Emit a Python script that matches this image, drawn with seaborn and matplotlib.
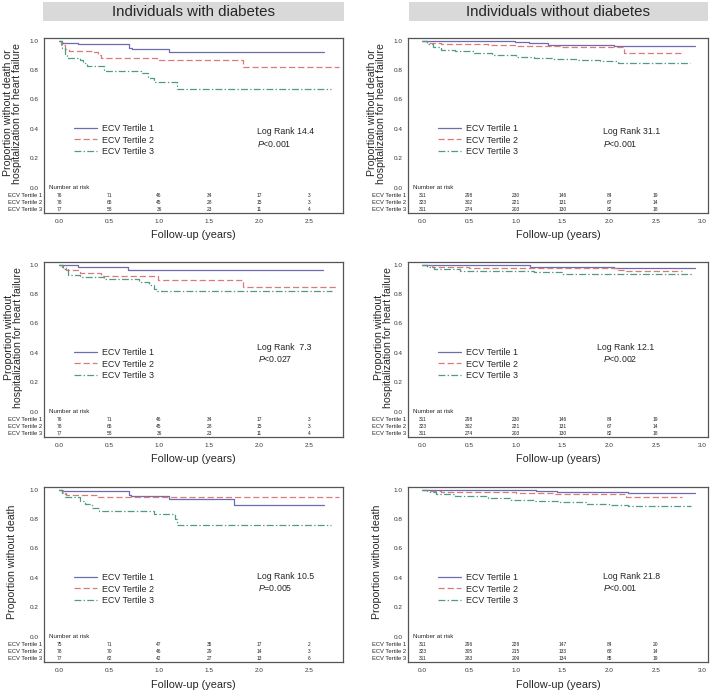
import matplotlib
matplotlib.use('Agg')
import pandas as pd
import matplotlib.pyplot as plt
import seaborn as sns
from matplotlib.patches import Rectangle
from matplotlib.transforms import blended_transform_factory

groups = ['ECV Tertile 1', 'ECV Tertile 2', 'ECV Tertile 3']

# diabetes, death or HF hospitalisation
dm_comp_t1 = [0, 0.03, 0.19, 0.70, 0.73, 1.10, 2.65]
dm_comp_s1 = [1.0, 0.987, 0.976, 0.952, 0.940, 0.923, 0.923]
dm_comp_t2 = [0, 0.02, 0.06, 0.10, 0.33, 0.39, 0.42, 0.98, 1.84, 2.80]
dm_comp_s2 = [1.0, 0.97, 0.946, 0.932, 0.923, 0.90, 0.882, 0.866, 0.823, 0.823]
dm_comp_t3 = [0, 0.03, 0.06, 0.08, 0.21, 0.24, 0.28, 0.45, 0.82, 0.89, 0.95, 1.175, 2.72]
dm_comp_s3 = [1.0, 0.95, 0.91, 0.885, 0.868, 0.85, 0.828, 0.794, 0.78, 0.748, 0.72, 0.669, 0.669]

# diabetes, HF hospitalisation
dm_hf_t1 = [0, 0.19, 0.69, 2.64]
dm_hf_s1 = [1.0, 0.984, 0.966, 0.966]
dm_hf_t2 = [0, 0.03, 0.07, 0.21, 0.42, 0.99, 1.84, 2.77]
dm_hf_s2 = [1.0, 0.984, 0.962, 0.943, 0.92, 0.894, 0.848, 0.848]
dm_hf_t3 = [0, 0.04, 0.09, 0.21, 0.45, 0.80, 0.90, 0.95, 0.98, 2.73]
dm_hf_s3 = [1.0, 0.97, 0.928, 0.916, 0.90, 0.882, 0.86, 0.837, 0.819, 0.819]

# diabetes, death
dm_death_t1 = [0, 0.03, 0.70, 0.72, 1.10, 1.75, 2.65]
dm_death_s1 = [1.0, 0.988, 0.964, 0.955, 0.937, 0.896, 0.896]
dm_death_t2 = [0, 0.04, 0.07, 0.38, 2.80]
dm_death_s2 = [1.0, 0.98, 0.966, 0.952, 0.952]
dm_death_t3 = [0, 0.03, 0.06, 0.21, 0.26, 0.33, 0.40, 0.95, 1.16, 1.18, 2.72]
dm_death_s3 = [1.0, 0.975, 0.952, 0.923, 0.90, 0.873, 0.855, 0.836, 0.80, 0.758, 0.758]

# no diabetes, death or HF hospitalisation
nodm_comp_t1 = [0, 0.6, 0.99, 1.14, 1.35, 2.05, 2.92]
nodm_comp_s1 = [1.0, 0.997, 0.99, 0.982, 0.973, 0.962, 0.962]
nodm_comp_t2 = [0, 0.05, 0.2, 0.7, 1.0, 1.5, 2.16, 2.79]
nodm_comp_s2 = [1.0, 0.985, 0.975, 0.968, 0.962, 0.958, 0.917, 0.917]
nodm_comp_t3 = [0, 0.05, 0.11, 0.2, 0.35, 0.55, 0.75, 1.0, 1.2, 1.4, 1.65, 1.9, 2.1, 2.87]
nodm_comp_s3 = [1.0, 0.975, 0.955, 0.937, 0.928, 0.917, 0.903, 0.89, 0.883, 0.876, 0.869, 0.86, 0.851, 0.851]

# no diabetes, HF hospitalisation
nodm_hf_t1 = [0, 1.15, 2.05, 2.92]
nodm_hf_s1 = [1.0, 0.985, 0.975, 0.975]
nodm_hf_t2 = [0, 0.1, 0.5, 1.0, 2.08, 2.18, 2.78]
nodm_hf_s2 = [1.0, 0.985, 0.98, 0.975, 0.966, 0.96, 0.96]
nodm_hf_t3 = [0, 0.05, 0.12, 0.4, 1.2, 1.5, 2.9]
nodm_hf_s3 = [1.0, 0.985, 0.968, 0.957, 0.95, 0.939, 0.939]

# no diabetes, death
nodm_death_t1 = [0, 0.6, 1.22, 1.44, 2.2, 2.92]
nodm_death_s1 = [1.0, 0.996, 0.989, 0.982, 0.977, 0.977]
nodm_death_t2 = [0, 0.05, 0.2, 0.6, 1.0, 1.4, 2.18, 2.78]
nodm_death_s2 = [1.0, 0.99, 0.986, 0.982, 0.975, 0.97, 0.95, 0.95]
nodm_death_t3 = [0, 0.08, 0.15, 0.35, 0.7, 0.95, 1.2, 1.45, 1.75, 2.0, 2.2, 2.88]
nodm_death_s3 = [1.0, 0.985, 0.97, 0.955, 0.945, 0.93, 0.925, 0.914, 0.902, 0.895, 0.886, 0.886]

# numbers at risk
dm_risk = [[76, 71, 46, 34, 17, 3], [78, 65, 45, 28, 15, 3], [77, 58, 36, 23, 11, 4]]
dm_death_risk = [[75, 71, 47, 35, 17, 2], [78, 70, 46, 29, 14, 3], [77, 62, 42, 27, 13, 6]]
nodm_risk = [[311, 298, 230, 146, 84, 19], [323, 302, 221, 131, 67, 14], [311, 274, 203, 130, 82, 18]]
nodm_death_risk = [[311, 296, 228, 147, 84, 20], [323, 305, 215, 133, 68, 14], [311, 283, 209, 134, 85, 19]]
risk_times = [0.0, 0.5, 1.0, 1.5, 2.0, 2.5]

left_ticks = [0.0, 0.5, 1.0, 1.5, 2.0, 2.5]
right_ticks = [0.0, 0.5, 1.0, 1.5, 2.0, 2.5, 3.0]

sns.set_style('white')
plt.rcParams['font.family'] = ['Liberation Sans', 'DejaVu Sans']
plt.rcParams['mathtext.fontset'] = 'custom'
plt.rcParams['mathtext.rm'] = 'Liberation Sans'
plt.rcParams['mathtext.it'] = 'Liberation Sans:italic'

palette = {groups[0]: '#6e6cae', groups[1]: '#d97a7d', groups[2]: '#4f9a88'}
dashes = {groups[0]: '', groups[1]: (5, 2.3), groups[2]: (5.5, 1.8, 1.1, 1.8)}

fig = plt.figure(figsize=(7.1, 6.96), dpi=100)


def panel(rect, curves, risk, ticks, xlim, ylabel, ylab_x, logrank, pval, lr_pos, p_pos):
    ax = fig.add_axes(rect)
    rows = []
    for g, (t, s) in zip(groups, curves):
        for ti, si in zip(t, s):
            rows.append({'time': ti, 'surv': si, 'group': g})
    df = pd.DataFrame(rows)
    sns.lineplot(data=df, x='time', y='surv', hue='group', style='group',
                 palette=palette, dashes=dashes, drawstyle='steps-post',
                 estimator=None, sort=False, linewidth=0.9, ax=ax)
    sns.move_legend(ax, 'center left', bbox_to_anchor=(0.1, 0.417), frameon=False,
                    title=None, fontsize=6.4, handlelength=2.6, handletextpad=0.55,
                    labelspacing=0.32, borderpad=0, borderaxespad=0)
    ax.set_xlim(*xlim)
    ax.set_ylim(-0.172, 1.018)
    ax.set_yticks([0.0, 0.2, 0.4, 0.6, 0.8, 1.0])
    ax.set_yticklabels(['%.1f' % v for v in [0.0, 0.2, 0.4, 0.6, 0.8, 1.0]])
    ax.set_xticks(ticks)
    ax.set_xticklabels(['%.1f' % v for v in ticks])
    ax.tick_params(length=2.5, width=0.6, color='#555555', labelsize=4.6,
                   labelcolor='#333333', pad=1.5)
    for sp in ax.spines.values():
        sp.set_color('#555555')
        sp.set_linewidth(0.9)
    ax.set_xlabel('Follow-up (years)', fontsize=7.8, labelpad=5)
    ax.set_ylabel(ylabel, fontsize=7.6, linespacing=0.85)
    ax.yaxis.set_label_coords(ylab_x, 0.571)

    # number at risk table
    tr = blended_transform_factory(ax.transAxes, ax.transData)
    ax.text(0.017, 0.004, 'Number at risk', transform=tr, fontsize=4.5, ha='left', va='center')
    for i, (g, row) in enumerate(zip(groups, risk)):
        yy = -0.05 - 0.049 * i
        ax.text(-0.006, yy, g, transform=tr, fontsize=4.2, ha='right', va='center')
        for xt, n in zip(risk_times, row):
            ax.text(xt, yy, str(n), fontsize=3.5, ha='center', va='center', color='#222222')

    ax.text(lr_pos[0], lr_pos[1], logrank, transform=ax.transAxes, fontsize=6.3, ha='left', va='center')
    ax.text(p_pos[0], p_pos[1], r'$\it{P}$' + pval, transform=ax.transAxes, fontsize=6.3, ha='left', va='center')
    return ax


W, H = 710.0, 696.0
lx, rx, aw = 44 / W, 408 / W, 300 / W
ah = 175 / H
rows_b = [1 - 213 / H, 1 - 437 / H, 1 - 662 / H]
lxlim = (-0.153, 2.84)
rxlim = (-0.155, 3.06)

ylab_comp = 'Proportion without death or\nhospitalization for heart failure'
ylab_hf = 'Proportion without\nhospitalization for heart failure'
ylab_death = 'Proportion without death'

panel([lx, rows_b[0], 299 / W, ah],
      [(dm_comp_t1, dm_comp_s1), (dm_comp_t2, dm_comp_s2), (dm_comp_t3, dm_comp_s3)],
      dm_risk, left_ticks, lxlim, ylab_comp, -0.074, 'Log Rank 14.4', '<0.001',
      (0.712, 0.463), (0.712, 0.394))
panel([lx, rows_b[1], 299 / W, ah],
      [(dm_hf_t1, dm_hf_s1), (dm_hf_t2, dm_hf_s2), (dm_hf_t3, dm_hf_s3)],
      dm_risk, left_ticks, lxlim, ylab_hf, -0.07, 'Log Rank  7.3', '<0.027',
      (0.712, 0.509), (0.715, 0.446))
panel([lx, rows_b[2], 299 / W, ah],
      [(dm_death_t1, dm_death_s1), (dm_death_t2, dm_death_s2), (dm_death_t3, dm_death_s3)],
      dm_death_risk, left_ticks, lxlim, ylab_death, -0.089, 'Log Rank 10.5', '=0.005',
      (0.712, 0.486), (0.715, 0.423))
panel([rx, rows_b[0], aw, ah],
      [(nodm_comp_t1, nodm_comp_s1), (nodm_comp_t2, nodm_comp_s2), (nodm_comp_t3, nodm_comp_s3)],
      nodm_risk, right_ticks, rxlim, ylab_comp, -0.073, 'Log Rank 31.1', '<0.001',
      (0.65, 0.463), (0.65, 0.394))
panel([rx, rows_b[1], aw, ah],
      [(nodm_hf_t1, nodm_hf_s1), (nodm_hf_t2, nodm_hf_s2), (nodm_hf_t3, nodm_hf_s3)],
      nodm_risk, right_ticks, rxlim, ylab_hf, -0.05, 'Log Rank 12.1', '<0.002',
      (0.63, 0.509), (0.65, 0.446))
panel([rx, rows_b[2], aw, ah],
      [(nodm_death_t1, nodm_death_s1), (nodm_death_t2, nodm_death_s2), (nodm_death_t3, nodm_death_s3)],
      nodm_death_risk, right_ticks, rxlim, ylab_death, -0.087, 'Log Rank 21.8', '<0.001',
      (0.65, 0.486), (0.65, 0.423))

# grey headers
for x0, x1, label in [(43, 344, 'Individuals with diabetes'), (409, 708, 'Individuals without diabetes')]:
    fig.patches.append(Rectangle((x0 / W, 1 - 21 / H), (x1 - x0) / W, 19 / H,
                                 transform=fig.transFigure, facecolor='#d9d9d9', edgecolor='none'))
    fig.text((x0 + x1) / 2 / W, 1 - 11.5 / H, label, fontsize=10.8, ha='center', va='center')

fig.savefig('out.png', dpi=100)
